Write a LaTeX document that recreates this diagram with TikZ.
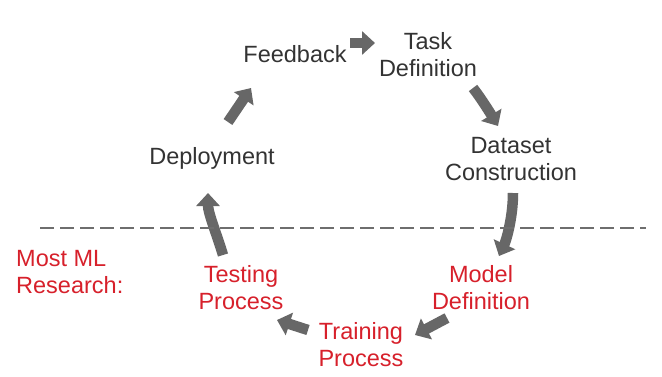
\documentclass[tikz,border=0pt]{standalone}
\usepackage{fontspec}
\setmainfont{Liberation Sans}
\usetikzlibrary{arrows.meta,calc}
\definecolor{txtgray}{HTML}{333333}
\definecolor{mlred}{HTML}{D7202B}
\definecolor{arrgray}{HTML}{676767}
\definecolor{dashgray}{HTML}{6E6E6E}
\begin{document}
\begin{tikzpicture}[x=1pt,y=-1pt,
  lbl/.style={inner sep=0pt,align=center,text=txtgray,font=\fontsize{23.5}{27}\selectfont},
  redlbl/.style={lbl,text=mlred},
  arr/.style={draw=arrgray,line width=10.5pt,-{Triangle[length=13pt,width=23pt]}},
  sep/.style={draw=dashgray,line width=2pt,dash pattern=on 14pt off 6pt}]
\useasboundingbox[fill=white] (0,0) rectangle (662,376);
\node[lbl] (fb) at (295,54) {Feedback};
\node[lbl] (td) at (428,55) {Task\\Definition};
\node[lbl] (dc) at (511,159) {Dataset\\Construction};
\node[lbl] (dep) at (212,158) {Deployment};
\node[redlbl] (md) at (481,288) {Model\\Definition};
\node[redlbl] (tp) at (361,345) {Training\\Process};
\node[redlbl] (ts) at (241,288) {Testing\\Process};
\node[redlbl,align=left,anchor=west] (ml) at (16,272) {Most ML\\Research:};
% arrows
\draw[arr] ($(fb)+(55,-11)$) -- ($(td)+(-53,-12)$);
\draw[arr] ($(td)+(45,33)$) .. controls +(8,10) and +(-6,-10) .. ($(dc)+(-13,-33)$);
\draw[arr] ($(dc)+(2,34)$) .. controls +(0,25) and +(7,-15) .. ($(md)+(18,-32)$);
\draw[arr] ($(md)+(-34,30)$) -- ($(tp)+(54,-10)$);
\draw[arr] ($(tp)+(-53,-15)$) -- ($(ts)+(36,32)$);
\draw[arr] ($(ts)+(-18,-33)$) .. controls +(-6,-20) and +(0,20) .. ($(dep)+(-4,35)$);
\draw[arr] ($(dep)+(16,-36)$) -- ($(fb)+(-44,34)$);
% separator
\draw[sep] (40,228) -- (646,228);
\end{tikzpicture}
\end{document}
